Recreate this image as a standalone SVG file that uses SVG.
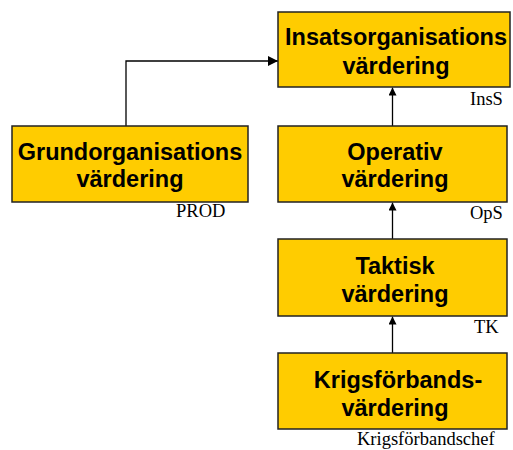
<svg xmlns="http://www.w3.org/2000/svg" width="513" height="450" viewBox="0 0 513 450">
<style>
.box{fill:#FFCC00;stroke:#222;stroke-width:1.5}
.t{font-family:"Liberation Sans",Arial,sans-serif;font-weight:bold;font-size:23.5px;fill:#000;text-anchor:middle}
.l{font-family:"Liberation Serif","Times New Roman",serif;font-size:18.5px;fill:#000}
.c{fill:none;stroke:#000;stroke-width:1.3}
</style>
<defs>
<marker id="ah" viewBox="0 0 10 10" refX="10" refY="5" markerWidth="8" markerHeight="8" markerUnits="userSpaceOnUse" orient="auto">
<path d="M0,0 L10,5 L0,10 z" fill="#000"/>
</marker>
<marker id="ahw" viewBox="0 0 10 10" refX="10" refY="5" markerWidth="12" markerHeight="10" markerUnits="userSpaceOnUse" orient="auto">
<path d="M0,0 L10,5 L0,10 z" fill="#000"/>
</marker>
</defs>
<g id="connectors">
<path class="c" d="M126,126 V61 H278" marker-end="url(#ahw)"/>
<path class="c" d="M392.5,126 V87.5" marker-end="url(#ah)"/>
<path class="c" d="M392.5,239 V202.5" marker-end="url(#ah)"/>
<path class="c" d="M392.5,353 V316.5" marker-end="url(#ah)"/>
</g>
<g id="insats">
<rect class="box" x="278" y="12" width="232" height="75"/>
<text class="t" x="396" y="45">Insatsorganisations</text>
<text class="t" x="396" y="73.5">värdering</text>
<text class="l" x="470" y="105">InsS</text>
</g>
<g id="grund">
<rect class="box" x="12" y="126" width="236" height="76"/>
<text class="t" x="130" y="159.5">Grundorganisations</text>
<text class="t" x="130" y="187">värdering</text>
<text class="l" x="176" y="217">PROD</text>
</g>
<g id="operativ">
<rect class="box" x="278" y="126" width="229" height="76"/>
<text class="t" x="395" y="159.5">Operativ</text>
<text class="t" x="395" y="187">värdering</text>
<text class="l" x="470" y="218.5">OpS</text>
</g>
<g id="taktisk">
<rect class="box" x="278" y="239" width="229" height="77"/>
<text class="t" x="395" y="273.5">Taktisk</text>
<text class="t" x="395" y="301.5">värdering</text>
<text class="l" x="474" y="333">TK</text>
</g>
<g id="krigsforband">
<rect class="box" x="278" y="353" width="229" height="76"/>
<text class="t" x="398" y="388">Krigsförbands-</text>
<text class="t" x="395" y="415.5">värdering</text>
<text class="l" x="357" y="445">Krigsförbandschef</text>
</g>
</svg>
